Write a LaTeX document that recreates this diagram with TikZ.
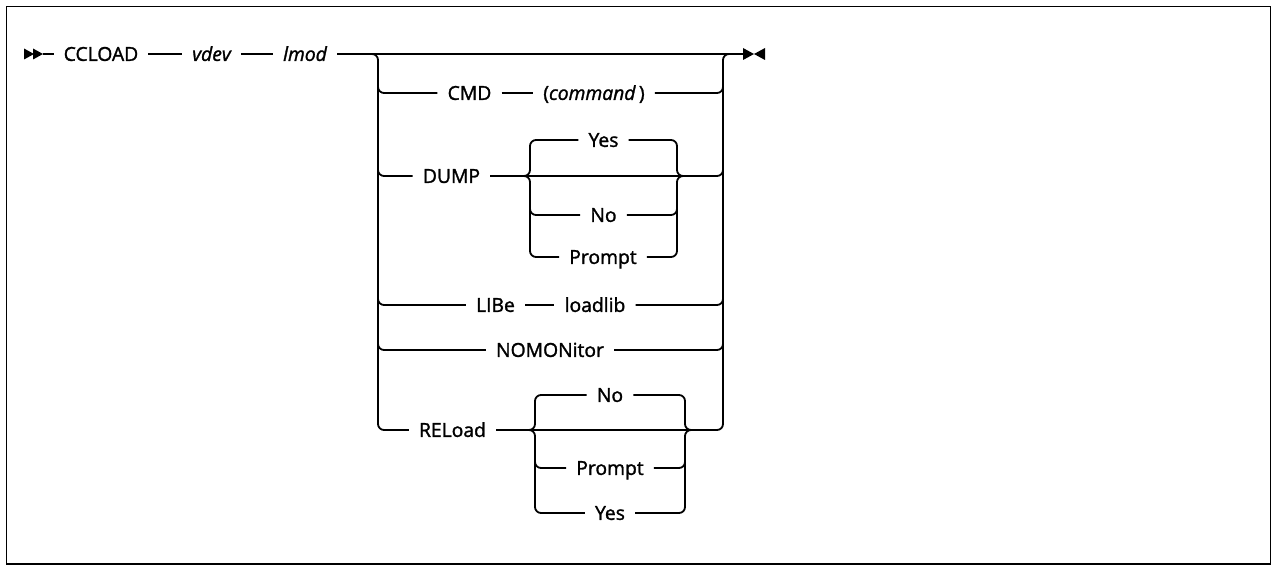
\documentclass[tikz,border=0pt]{standalone}
\usepackage{fontspec}
\setmainfont{Open Sans}[BoldFont={Open Sans}, BoldFeatures={FakeBold=1.5}, BoldItalicFont={Open Sans Italic}, BoldItalicFeatures={FakeBold=1.5}]
\usetikzlibrary{calc}
\begin{document}
\begin{tikzpicture}[x=1pt,y=-1pt,
  rail/.style={line width=1.8pt, line join=round},
  rc/.style={rail, rounded corners=6pt},
  kw/.style={inner xsep=10pt, inner ysep=0pt, text height=13.8pt, text depth=0pt, font=\fontsize{19.3}{22}\selectfont\bfseries},
  var/.style={kw, font=\fontsize{19.3}{22}\selectfont\bfseries\itshape}]
\useasboundingbox (0,0) rectangle (1273,567);
\draw[line width=1.8pt] (6.5,6.5) rectangle (1270.5,564);
% junction coordinates
\coordinate (L) at (378,54);
\coordinate (R) at (723,54);
\coordinate (s1) at (43,54);
\coordinate (fin) at (743,54);
% top line nodes
\node[kw] (cc) at (101,54) {CCLOAD};
\node[var] (vd) at (211.5,54) {vdev};
\node[var] (lm) at (305,54) {lmod};
% rows
\node[kw] (cmd) at (469.5,93) {CMD};
\node[kw] (com) at (594,93) {(\textit{command}\/\,)};
\node[kw] (dump) at (451.5,176) {DUMP};
\node[kw] (dyes) at (603.5,140) {Yes};
\node[kw] (dno) at (603.5,215) {No};
\node[kw] (dprm) at (603,257) {Prompt};
\node[kw] (lib) at (495.5,305) {LIBe};
\node[kw] (ll) at (595,305) {loadlib};
\node[kw] (nm) at (550,350) {NOMONitor};
\node[kw] (rel) at (452.5,430) {RELoad};
\node[kw] (rno) at (610,395) {No};
\node[kw] (rprm) at (610,468) {Prompt};
\node[kw] (ryes) at (610,513) {Yes};
\coordinate (DL) at (530,176);
\coordinate (DR) at (677,176);
\coordinate (RL) at (535,430);
\coordinate (RR) at (685,430);
% start marker
\fill (24,48.5) -- (34,54) -- (24,59.5) -- cycle;
\fill (33,48.5) -- (43,54) -- (33,59.5) -- cycle;
\draw[rail] (s1) -- (cc);
\draw[rail] (cc) -- (vd);
\draw[rail] (vd) -- (lm);
% main line
\draw[rail] (lm) -- (fin);
% end marker
\fill (743,48) -- (754,54) -- (743,60) -- cycle;
\fill (765,48) -- (754,54) -- (765,60) -- cycle;
% left bracket
\draw[rc] (lm) -- (L) -- (L |- rel) -- (rel);
\draw[rc] ($(L |- cmd)+(0,-14)$) -- (L |- cmd) -- (cmd);
\draw[rc] ($(L |- dump)+(0,-14)$) -- (L |- dump) -- (dump);
\draw[rc] ($(L |- lib)+(0,-14)$) -- (L |- lib) -- (lib);
\draw[rc] ($(L |- nm)+(0,-14)$) -- (L |- nm) -- (nm);
% right bracket
\draw[rc] (RR) -- (R |- rel) -- (R) -- (fin);
\draw[rc] (com) -- (R |- com) -- ($(R |- com)+(0,-14)$);
\draw[rc] (DR) -- (R |- dump) -- ($(R |- dump)+(0,-14)$);
\draw[rc] (ll) -- (R |- ll) -- ($(R |- ll)+(0,-14)$);
\draw[rc] (nm) -- (R |- nm) -- ($(R |- nm)+(0,-14)$);
% CMD row
\draw[rail] (cmd) -- (com);
% LIBe row
\draw[rail] (lib) -- (ll);
% DUMP sub-bracket
\draw[rail] (dump) -- (DL) -- (DR);
\draw[rc] (dump) -- (DL) -- (DL |- dyes) -- (dyes);
\draw[rc] (dump) -- (DL) -- (DL |- dprm) -- (dprm);
\draw[rc] ($(DL |- dno)+(0,-14)$) -- (DL |- dno) -- (dno);
\draw[rc] (dyes) -- (DR |- dyes) -- (DR) -- ($(DR)+(10,0)$);
\draw[rc] (dprm) -- (DR |- dprm) -- (DR) -- ($(DR)+(10,0)$);
\draw[rc] (dno) -- (DR |- dno) -- ($(DR |- dno)+(0,-14)$);
% RELoad sub-bracket
\draw[rail] (rel) -- (RL) -- (RR);
\draw[rc] (rel) -- (RL) -- (RL |- rno) -- (rno);
\draw[rc] (rel) -- (RL) -- (RL |- ryes) -- (ryes);
\draw[rc] ($(RL |- rprm)+(0,-14)$) -- (RL |- rprm) -- (rprm);
\draw[rc] (rno) -- (RR |- rno) -- (RR) -- ($(RR)+(10,0)$);
\draw[rc] (ryes) -- (RR |- ryes) -- (RR) -- ($(RR)+(10,0)$);
\draw[rc] (rprm) -- (RR |- rprm) -- ($(RR |- rprm)+(0,-14)$);
\end{tikzpicture}
\end{document}
